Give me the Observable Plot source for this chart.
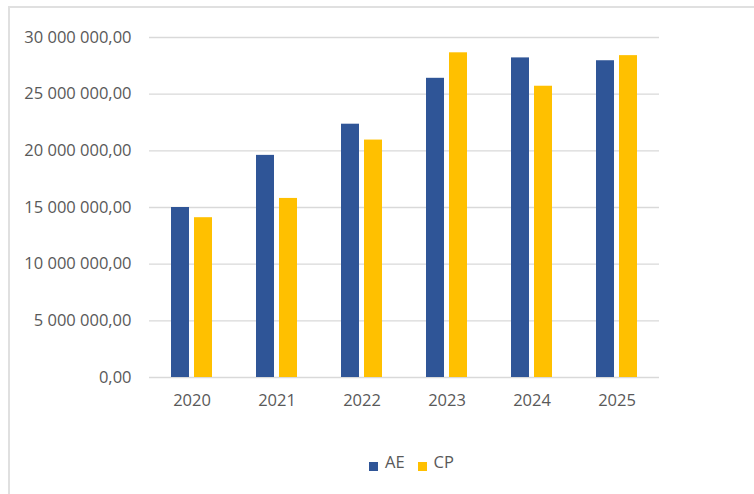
<!DOCTYPE html>
<html><head><meta charset="utf-8">
<script src="https://cdn.jsdelivr.net/npm/d3@7"></script>
<script src="https://cdn.jsdelivr.net/npm/@observablehq/plot@0.6"></script>
<style>
html,body{margin:0;padding:0;background:#fff;}
body{width:754px;height:494px;overflow:hidden;position:relative;font-family:"Open Sans",sans-serif;}
#frame{position:absolute;left:8px;top:6px;width:900px;height:700px;border:2px solid #e0e0e0;box-sizing:border-box;}
#chart{position:absolute;left:0;top:0;}
#legend{position:absolute;top:450px;left:369px;display:flex;align-items:center;font-size:16.5px;color:#595959;}
#legend .item{display:flex;align-items:center;margin-right:13px;}
#legend .sw{width:9px;height:9px;margin-right:7px;margin-top:9px;}
</style></head><body>
<div id="frame"></div><div id="chart"></div><div id="legend"></div>
<script>
const years = ["2020", "2021", "2022", "2023", "2024", "2025"];
const aeValues = [15000000, 19600000, 22350000, 26400000, 28200000, 27950000];
const cpValues = [14100000, 15800000, 20950000, 28650000, 25700000, 28400000];
const series = ["AE", "CP"];
const seriesColors = ["#2F5597", "#FFC000"];
const yTicks = [0, 5000000, 10000000, 15000000, 20000000, 25000000, 30000000];

const data = years.flatMap((year, i) => [
  {year, series: "AE", value: aeValues[i]},
  {year, series: "CP", value: cpValues[i]}
]);
const fmt = d3.formatLocale({decimal: ",", thousands: " ", grouping: [3], currency: ["", ""]}).format(",.2f");

const chart = Plot.plot({
  width: 754, height: 420,
  marginTop: 37, marginBottom: 43, marginLeft: 148, marginRight: 94,
  style: {fontFamily: "'Open Sans', sans-serif", fontSize: "16.5px", color: "#595959", background: "transparent"},
  fx: {domain: years, paddingInner: 0.49, paddingOuter: 0.245, label: null, tickSize: 0, tickPadding: 17, axis: "bottom"},
  x: {domain: series, paddingInner: 0.2, paddingOuter: 0, axis: null},
  y: {domain: [0, 30000000], ticks: yTicks, tickFormat: fmt, tickSize: 0, tickPadding: 39, label: null},
  color: {domain: series, range: seriesColors},
  marks: [
    Plot.ruleY(yTicks, {stroke: "#d9d9d9", strokeWidth: 1.3, insetLeft: -21, insetRight: -21}),
    Plot.barY(data, {fx: "year", x: "series", y: "value", fill: "series"})
  ]
});
document.getElementById("chart").appendChild(chart);

const legend = document.getElementById("legend");
series.forEach((s, i) => {
  const item = document.createElement("div");
  item.className = "item";
  const sw = document.createElement("span");
  sw.className = "sw";
  sw.style.background = seriesColors[i];
  const t = document.createElement("span");
  t.textContent = s;
  item.appendChild(sw); item.appendChild(t);
  legend.appendChild(item);
});
</script>
</body></html>
